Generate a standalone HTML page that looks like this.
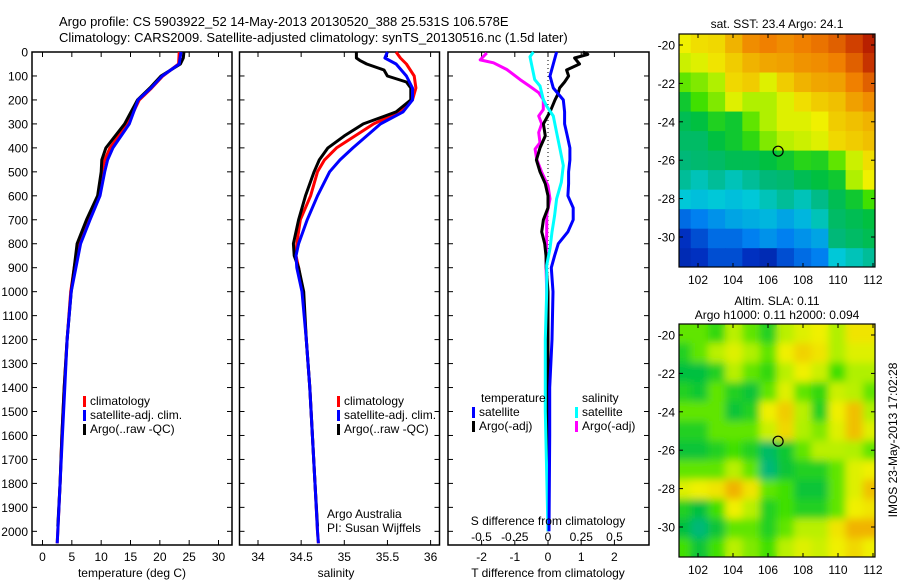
<!DOCTYPE html>
<html><head><meta charset="utf-8">
<style>
html,body{margin:0;padding:0;background:#fff;}
svg{display:block;font-family:"Liberation Sans",sans-serif;}
text{fill:#000;}
</style></head>
<body>
<svg id="fig" width="900" height="580" viewBox="0 0 900 580" xmlns="http://www.w3.org/2000/svg">
<text x="59" y="26" font-size="13">Argo profile: CS 5903922_52 14-May-2013 20130520_388 25.531S 106.578E</text>
<text x="59" y="42" font-size="13">Climatology: CARS2009. Satellite-adjusted climatology: synTS_20130516.nc (1.5d later)</text>
<g id="g1"></g>
<g id="g2"></g>
<g id="g3"></g>
<g id="m1"></g>
<g id="m2"></g>
<text transform="translate(897,440) rotate(-90)" text-anchor="middle" font-size="12">IMOS 23-May-2013 17:02:28</text>
</svg>
<script>
// ---- profile data ----
const depthT = [0,50,100,150,200,300,400,450,500,600,700,800,900,1000,1200,1400,1600,1800,2000,2050];
const tempClim = [23.3,23.2,20.5,18.6,16.5,14.5,11.5,10.6,10.1,9.5,7.8,6.1,5.4,4.8,4.2,3.7,3.3,3.0,2.6,2.5];
const tempSat  = [23.6,23.3,20.4,18.5,16.3,14.8,12.0,11.1,10.6,9.8,8.1,6.5,5.7,4.9,4.2,3.8,3.4,3.0,2.6,2.5];
const depthTA = [0,25,50,100,150,200,300,400,450,500,600,700,800,900,1000,1200,1400,1600,1800,1980];
const tempArgo = [24.1,24.0,23.5,20.2,18.3,16.2,14.0,10.8,10.1,10.0,9.4,7.5,5.9,5.4,4.9,4.2,3.7,3.3,3.0,2.6];
const depthS = [0,25,50,100,150,200,250,300,400,450,500,600,700,800,850,900,1000,1200,1400,1600,1800,2000,2050];
const salClim = [35.60,35.65,35.72,35.81,35.83,35.79,35.64,35.34,34.91,34.77,34.69,34.61,34.49,34.45,34.44,34.47,34.52,34.56,34.60,34.63,34.66,34.69,34.70];
const salSat  = [35.50,35.47,35.60,35.72,35.79,35.79,35.68,35.42,35.10,34.95,34.83,34.69,34.57,34.47,34.44,34.45,34.51,34.56,34.60,34.63,34.66,34.69,34.70];
const depthSA = [0,25,35,50,75,100,125,150,200,250,300,350,400,450,500,600,700,800,850,900,1000,1200,1400,1600,1800,1980];
const salArgo = [35.14,35.14,35.18,35.26,35.46,35.50,35.72,35.77,35.77,35.60,35.22,35.00,34.81,34.71,34.65,34.55,34.47,34.41,34.42,34.47,34.53,34.56,34.60,34.63,34.66,34.69];
// difference data
const depthDT = [0,50,100,150,200,250,300,350,400,450,500,550,600,650,700,750,800,850,900,1000,1200,1400,1600,2000];
const dTsat = [0.26,0.16,0.06,0.16,0.46,0.50,0.50,0.58,0.66,0.66,0.62,0.62,0.60,0.76,0.76,0.60,0.31,0.20,0.10,0.15,0.12,0.05,0.05,0.03];
const depthDTA = [0,10,25,50,75,100,125,150,175,200,250,300,350,400,450,500,550,600,650,700,750,800,850,900,1000,1400,2000];
const dTargo = [1.05,1.20,0.80,0.95,0.56,0.62,0.50,0.35,0.30,0.21,0.06,-0.14,-0.08,-0.24,-0.35,-0.24,-0.08,0.0,0.0,-0.14,-0.19,-0.10,-0.06,-0.05,0.0,0.0,0.0];
const depthDSA = [4,33,45,73,115,142,170,198,240,267,300,336,378,405,447,502,558,613,680,751,890,1000,1400,2000];
const dSargo = [-0.46,-0.51,-0.41,-0.31,-0.21,-0.14,-0.07,-0.035,-0.035,-0.07,-0.047,-0.07,-0.06,-0.097,-0.085,-0.047,0.0,0.015,-0.01,-0.01,-0.015,-0.01,0.0,0.0];
const depthDS = [0,20,115,142,198,226,267,336,405,474,544,613,682,751,820,890,1000,1200,1500,2000];
const dSsat = [-0.11,-0.135,-0.10,-0.06,-0.035,-0.01,0.04,0.065,0.09,0.115,0.10,0.065,0.05,0.03,0.015,-0.01,-0.01,-0.02,-0.02,0.0];
const depthTicks = [0,100,200,300,400,500,600,700,800,900,1000,1100,1200,1300,1400,1500,1600,1700,1800,1900,2000];
const tempTicks = [0,5,10,15,20,25,30];
const salTicks = [34,34.5,35,35.5,36];
const dTTicks = [-2,-1,0,1,2];
const dSTicks = [-0.5,-0.25,0,0.25,0.5];
const dSTickLabels = ["-0.5","-0.25","0","0.25","0.5"];
// map data (rows from -20 to -31 lat, cols from 101 to 112 lon), normalised 0..1
const sstGrid = [
[0.62,0.65,0.66,0.72,0.78,0.80,0.78,0.80,0.82,0.85,0.90,0.95],
[0.58,0.60,0.64,0.68,0.72,0.74,0.75,0.77,0.78,0.80,0.85,0.92],
[0.50,0.52,0.55,0.66,0.68,0.60,0.68,0.72,0.74,0.75,0.80,0.85],
[0.42,0.48,0.52,0.60,0.55,0.55,0.60,0.65,0.68,0.70,0.75,0.78],
[0.38,0.40,0.44,0.42,0.50,0.55,0.60,0.60,0.62,0.68,0.70,0.72],
[0.36,0.36,0.40,0.42,0.46,0.52,0.56,0.58,0.60,0.66,0.68,0.70],
[0.34,0.35,0.36,0.38,0.38,0.40,0.42,0.45,0.44,0.50,0.58,0.65],
[0.32,0.30,0.32,0.30,0.32,0.34,0.35,0.38,0.40,0.42,0.55,0.62],
[0.28,0.27,0.28,0.27,0.28,0.30,0.32,0.30,0.33,0.38,0.42,0.48],
[0.18,0.20,0.22,0.24,0.25,0.26,0.24,0.26,0.30,0.36,0.38,0.40],
[0.12,0.15,0.18,0.18,0.20,0.22,0.20,0.22,0.24,0.34,0.36,0.38],
[0.10,0.12,0.15,0.15,0.12,0.10,0.15,0.18,0.20,0.28,0.30,0.32]];
const slaGrid = [
[0.50,0.50,0.46,0.56,0.50,0.44,0.56,0.60,0.62,0.55,0.64,0.64],
[0.44,0.50,0.56,0.60,0.55,0.50,0.62,0.67,0.64,0.55,0.60,0.60],
[0.40,0.40,0.44,0.56,0.50,0.46,0.56,0.62,0.58,0.48,0.55,0.55],
[0.44,0.42,0.50,0.44,0.41,0.50,0.60,0.50,0.46,0.58,0.56,0.50],
[0.50,0.50,0.50,0.41,0.44,0.62,0.68,0.56,0.44,0.62,0.70,0.55],
[0.44,0.44,0.50,0.50,0.50,0.58,0.66,0.55,0.52,0.60,0.70,0.60],
[0.41,0.41,0.44,0.48,0.44,0.36,0.42,0.50,0.56,0.56,0.55,0.50],
[0.50,0.50,0.50,0.56,0.50,0.34,0.41,0.44,0.44,0.50,0.60,0.62],
[0.60,0.62,0.64,0.72,0.64,0.50,0.48,0.41,0.41,0.50,0.60,0.70],
[0.44,0.40,0.48,0.62,0.56,0.44,0.48,0.44,0.44,0.50,0.62,0.64],
[0.40,0.34,0.41,0.50,0.50,0.44,0.50,0.56,0.56,0.64,0.72,0.72],
[0.48,0.41,0.48,0.56,0.52,0.48,0.56,0.60,0.58,0.62,0.66,0.62]];
const lonTicks = [102,104,106,108,110,112];
const latTicks = [-20,-22,-24,-26,-28,-30];
const argoLon = 106.578, argoLat = -25.531;

const NS = "http://www.w3.org/2000/svg";
function mk(parent, tag, attrs){const e=document.createElementNS(NS,tag);for(const k in attrs)e.setAttribute(k,attrs[k]);parent.appendChild(e);return e;}
function txt(parent,x,y,s,anchor,size){const t=mk(parent,'text',{x:x,y:y,'font-size':size||12,'text-anchor':anchor||'start'});t.textContent=s;return t;}

const Y0=52, Y1=545, DMAX=2057;
const yD = d => Y0 + d/DMAX*(Y1-Y0);

function panel(g, x0, x1, xs, ticks, labels, yLabels){
  mk(g,'rect',{x:x0,y:Y0,width:x1-x0,height:Y1-Y0,fill:'none',stroke:'#000','stroke-width':1.5});
  ticks.forEach((v,i)=>{
    const x=xs(v);
    mk(g,'line',{x1:x,x2:x,y1:Y1,y2:Y1-5,stroke:'#000'});
    mk(g,'line',{x1:x,x2:x,y1:Y0,y2:Y0+5,stroke:'#000'});
    if(labels){const t=txt(g,x,561,labels[i],'middle',12);
      
      }
  });
  depthTicks.forEach(d=>{
    mk(g,'line',{x1:x0,x2:x0+5,y1:yD(d),y2:yD(d),stroke:'#000'});
    mk(g,'line',{x1:x1,x2:x1-5,y1:yD(d),y2:yD(d),stroke:'#000'});
    if(yLabels){const t=txt(g,28,yD(d)+4.5,String(d),'end',12);
      
      }
  });
}
function line(g, xs, xv, dv, color, w, name){
  const pts=xv.map((v,i)=>xs(v).toFixed(1)+','+yD(dv[i]).toFixed(1)).join(' ');
  const p=mk(g,'polyline',{points:pts,fill:'none',stroke:color,'stroke-width':w,'stroke-linejoin':'round'});
  
  
}
function legend(g,x,y,color,label){
  mk(g,'rect',{x:x,y:y-9,width:3,height:11,fill:color});
  const t=txt(g,x+7,y,label,'start',12);
  
  
}

// panel 1
const g1=document.getElementById('g1');
const xT = t => 42.5 + t*5.867;
panel(g1,32,232,xT,tempTicks,tempTicks.map(String),true);
line(g1,xT,tempClim,depthT,'#f00',3,'temp-climatology-line');
line(g1,xT,tempArgo,depthTA,'#000',3,'temp-argo-line');
line(g1,xT,tempSat,depthT,'#00f',3,'temp-satellite-line');
legend(g1,83,405,'#f00','climatology');
legend(g1,83,419,'#00f','satellite-adj. clim.');
legend(g1,83,433,'#000','Argo(..raw -QC)');
txt(g1,132,577,'temperature (deg C)','middle',12);

// panel 2
const g2=document.getElementById('g2');
const xS = s => 258 + (s-34)*86.3;
panel(g2,239.5,439.5,xS,salTicks,salTicks.map(String),false);
line(g2,xS,salClim,depthS,'#f00',3,'sal-climatology-line');
line(g2,xS,salArgo,depthSA,'#000',3,'sal-argo-line');
line(g2,xS,salSat,depthS,'#00f',3,'sal-satellite-line');
legend(g2,337,405,'#f00','climatology');
legend(g2,337,419,'#00f','satellite-adj. clim.');
legend(g2,337,433,'#000','Argo(..raw -QC)');
txt(g2,327,518,'Argo Australia','start',12);
txt(g2,327,532,'PI: Susan Wijffels','start',12);
txt(g2,336,577,'salinity','middle',12);

// panel 3
const g3=document.getElementById('g3');
const xdT = v => 548 + v*33.2;
const xdS = v => 548 + v*133;
panel(g3,448,649,xdT,dTTicks,dTTicks.map(String),false);
mk(g3,'line',{x1:548,x2:548,y1:Y0,y2:300,stroke:'#000','stroke-dasharray':'1,3'});
line(g3,xdS,dSargo,depthDSA,'#f0f',3,'sal-argo-diff-line');
line(g3,xdT,dTargo,depthDTA,'#000',3,'temp-argo-diff-line');
line(g3,xdS,dSsat,depthDS,'#0ff',3,'sal-sat-diff-line');
line(g3,xdT,dTsat,depthDT,'#00f',3,'temp-sat-diff-line');
dSTicks.forEach((v,i)=>{const t=txt(g3,xdS(v),541,dSTickLabels[i],'middle',12);
  
  });
txt(g3,548,525,'S difference from climatology','middle',12);
txt(g3,548,577,'T difference from climatology','middle',12);
txt(g3,481,402,'temperature','start',12);
legend(g3,472,416,'#00f','satellite');
legend(g3,472,430,'#000','Argo(-adj)');
txt(g3,582,402,'salinity','start',12);
legend(g3,575,416,'#0ff','satellite');
legend(g3,575,430,'#f0f','Argo(-adj)');

// colormap
const stops=[[0,[0,16,122]],[0.12,[0,48,192]],[0.2,[0,128,240]],[0.28,[0,200,216]],[0.34,[0,184,120]],[0.4,[0,192,64]],[0.48,[64,224,0]],[0.55,[176,240,0]],[0.62,[240,240,0]],[0.7,[240,192,0]],[0.8,[240,128,0]],[0.9,[208,64,0]],[1,[160,0,0]]];
function cmap(v){for(let i=1;i<stops.length;i++){if(v<=stops[i][0]){const a=stops[i-1],b=stops[i];const f=(v-a[0])/(b[0]-a[0]);return 'rgb('+a[1].map((c,j)=>Math.round(c+(b[1][j]-c)*f)).join(',')+')';}}return 'rgb(160,0,0)';}

function drawMap(g, top, grid, blur, title1, title2){
  const L=679,R=875,B=top+233;
  const xL = lon => 698 + (lon-102)*17.5;
  const yL = lat => top+11 + (-20-lat)*19.2;
  const id='clip'+top;
  const cp=mk(g,'clipPath',{id:id});mk(cp,'rect',{x:L,y:top,width:R-L,height:B-top});
  const cg=mk(g,'g',{'clip-path':'url(#'+id+')'});
  if(blur){const f=mk(g,'filter',{id:'blur'+top,x:'-10%',y:'-10%',width:'120%',height:'120%'});mk(f,'feGaussianBlur',{stdDeviation:blur});}
  const layers = blur ? [mk(cg,'g',{}), mk(cg,'g',{filter:'url(#blur'+top+')'})] : [mk(cg,'g',{})];
  layers.forEach(inner=>{
  grid.forEach((row,r)=>row.forEach((v,c)=>{
    const lon0=100.6+c*(11.8/12), lat0=-19.4-r*(12.2/12);
    const x=xL(lon0), y=yL(lat0);
    const cell=mk(inner,'rect',{x:x,y:y,width:17.5*11.8/12+0.6,height:19.2*12.2/12+0.6,fill:cmap(v)});
    
    
  }));
  });
  mk(g,'rect',{x:L,y:top,width:R-L,height:B-top,fill:'none',stroke:'#000','stroke-width':1.2});
  lonTicks.forEach(l=>{const x=xL(l);mk(g,'line',{x1:x,x2:x,y1:B,y2:B-4,stroke:'#000'});mk(g,'line',{x1:x,x2:x,y1:top,y2:top+4,stroke:'#000'});
    const t=txt(g,x,B+17,String(l),'middle',12);});
  latTicks.forEach(l=>{const y=yL(l);mk(g,'line',{x1:L,x2:L+4,y1:y,y2:y,stroke:'#000'});mk(g,'line',{x1:R,x2:R-4,y1:y,y2:y,stroke:'#000'});
    const t=txt(g,675,y+4.5,String(l),'end',12);});
  const m=mk(g,'circle',{cx:xL(argoLon),cy:yL(argoLat),r:5,fill:'none',stroke:'#000','stroke-width':1.2});
  
  
  if(title2){txt(g,777,top-19,title1,'middle',12);txt(g,777,top-5,title2,'middle',12);}
  else txt(g,777,top-6,title1,'middle',12);
}
drawMap(document.getElementById('m1'),34,sstGrid,0,'sat. SST: 23.4 Argo: 24.1');
drawMap(document.getElementById('m2'),324,slaGrid,4,'Altim. SLA: 0.11','Argo h1000: 0.11 h2000: 0.094');
</script>
</body></html>
